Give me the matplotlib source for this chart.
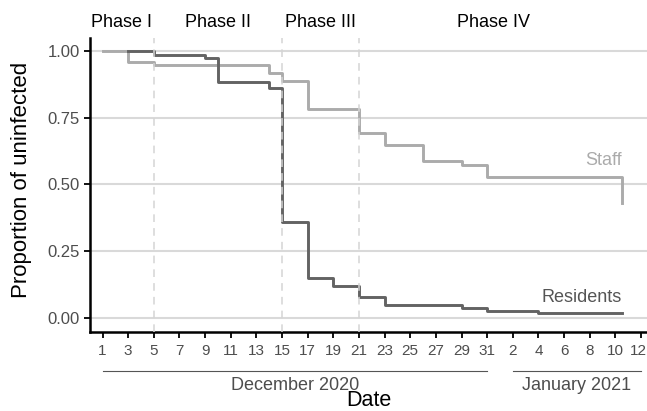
import matplotlib
matplotlib.use("Agg")
import matplotlib.pyplot as plt
import matplotlib.transforms as mtransforms

plt.rcParams['font.family'] = ['Liberation Sans', 'DejaVu Sans']

# day index: Dec d -> d, Jan j -> 31 + j
res_t = [3, 5, 9, 10, 14, 15, 17, 19, 21, 23, 29, 31, 35, 41.5]
res_s = [1.0, 0.984, 0.972, 0.881, 0.859, 0.359, 0.152, 0.121, 0.081, 0.050, 0.040, 0.027, 0.019, 0.019]
staff_t = [1, 3, 5, 14, 15, 17, 21, 23, 26, 29, 31, 41.5, 41.5]
staff_s = [1.0, 0.956, 0.945, 0.915, 0.886, 0.780, 0.691, 0.648, 0.588, 0.573, 0.529, 0.529, 0.43]

phase_bounds = [5, 15, 21]
phase_names = ['Phase I', 'Phase II', 'Phase III', 'Phase IV']
phase_mid = [2.5, 10, 18, 31.5]

tick_days = list(range(1, 32, 2)) + list(range(33, 44, 2))
tick_labels = [str(d) for d in range(1, 32, 2)] + [str(d) for d in range(2, 13, 2)]
months = [('December 2020', 1, 31), ('January 2021', 33, 43)]

fig = plt.figure(figsize=(6.47, 4.11), dpi=100)
ax = fig.add_axes([90 / 647, 1 - 332 / 411, 557 / 647, 294 / 411])

for y in [0, 0.25, 0.5, 0.75, 1.0]:
    ax.axhline(y, color='#d9d9d9', lw=1.5, zorder=0)

ax.step(staff_t, staff_s, where='post', color='#ababab', lw=2.1, zorder=2)
ax.step(res_t, res_s, where='post', color='#636363', lw=2.1, zorder=3)

for b in phase_bounds:
    ax.axvline(b, color='#d4d4d4', lw=1.1, ls=(0, (5, 4)), zorder=4)

ax.text(41.5, 0.59, 'Staff', color='#ababab', fontsize=13, ha='right', va='center')
ax.text(41.5, 0.077, 'Residents', color='#555555', fontsize=13, ha='right', va='center')

ax.set_xlim(0.02, 43.47)
ax.set_ylim(-0.051, 1.047)
ax.set_yticks([0, 0.25, 0.5, 0.75, 1.0])
ax.set_yticklabels(['0.00', '0.25', '0.50', '0.75', '1.00'])
ax.set_xticks(tick_days)
ax.set_xticklabels(tick_labels)
ax.tick_params(colors='black', labelcolor='#4d4d4d', length=4.5, width=1.3, pad=3)
ax.tick_params(axis='y', labelsize=12)
ax.tick_params(axis='x', labelsize=11, pad=4)
for s in ['top', 'right']:
    ax.spines[s].set_visible(False)
for s in ['left', 'bottom']:
    ax.spines[s].set_linewidth(1.8)

# keep the last label ("12") inside the canvas
last = ax.get_xticklabels()[-1]
last.set_transform(last.get_transform() + mtransforms.ScaledTranslation(-3 / 100, 0, fig.dpi_scale_trans))

fig.text(22 / 647, 1 - 180 / 411, 'Proportion of uninfected', rotation=90,
         ha='center', va='center', fontsize=16)

trans = mtransforms.blended_transform_factory(ax.transData, ax.transAxes)
for name, mid in zip(phase_names, phase_mid):
    ax.text(mid, 1.054, name, transform=trans, ha='center', va='center', fontsize=13)

for name, a, b in months:
    ax.plot([a, b], [-0.133, -0.133], transform=trans, color='#555555', lw=0.8, clip_on=False)
    ax.text((a + b) / 2, -0.183, name, transform=trans, ha='center', va='center',
            fontsize=13, color='#4d4d4d')

ax.text(0.5, -0.232, 'Date', transform=ax.transAxes, ha='center', va='center', fontsize=15.5)

fig.savefig('out.png', dpi=100)
